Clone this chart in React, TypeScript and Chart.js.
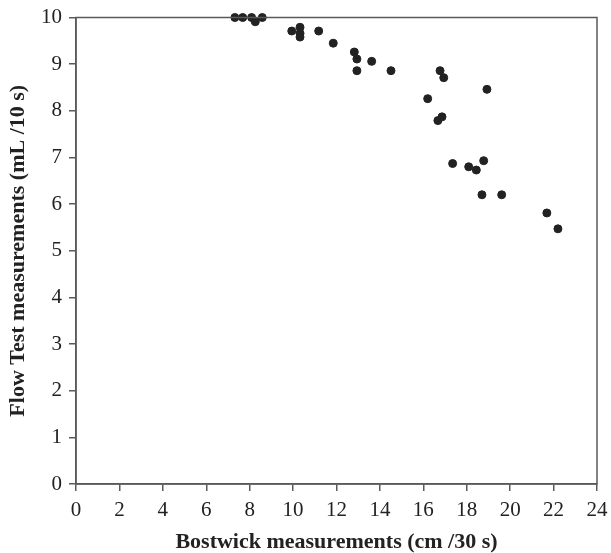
import React, { useEffect, useRef } from "react";
import { Chart, registerables } from "chart.js";

Chart.register(...registerables);

const bostwick: number[] = [7.32, 7.68, 8.09, 8.26, 8.58, 9.94, 10.32, 10.32, 10.32, 11.18, 11.85, 12.82, 12.94, 13.62, 12.94, 14.51, 16.77, 16.94, 18.93, 16.2, 16.86, 16.67, 17.35, 18.09, 18.44, 18.78, 18.7, 19.61, 21.69, 22.2];
const flowTest: number[] = [10.0, 10.0, 10.0, 9.91, 10.0, 9.71, 9.79, 9.66, 9.58, 9.71, 9.45, 9.26, 9.11, 9.06, 8.86, 8.86, 8.86, 8.71, 8.46, 8.26, 7.87, 7.79, 6.87, 6.8, 6.73, 6.93, 6.2, 6.2, 5.81, 5.47];

const xTitle = "Bostwick measurements (cm /30 s)";
const yTitle = "Flow Test measurements (mL /10 s)";

const axisColor = "#5a5a5a";
const textColor = "#222222";
const fontFamily = "'Liberation Serif', 'Times New Roman', serif";

const boxPlugin = {
  id: "boxPlugin",
  afterDraw(chart: any) {
    const { ctx, chartArea } = chart;
    ctx.save();
    ctx.strokeStyle = axisColor;
    ctx.lineWidth = 1.5;
    ctx.strokeRect(chartArea.left, chartArea.top, chartArea.right - chartArea.left, chartArea.bottom - chartArea.top);
    ctx.restore();
  },
};

export default function App() {
  const ref = useRef<HTMLCanvasElement | null>(null);
  useEffect(() => {
    document.body.style.margin = "0";
    if (!ref.current) return;
    const data = bostwick.map((x, i) => ({ x, y: flowTest[i] }));
    const chart = new Chart(ref.current, {
      type: "scatter",
      data: {
        datasets: [
          {
            data,
            backgroundColor: "#222222",
            borderColor: "#222222",
            pointRadius: 4,
            pointHoverRadius: 4,
            clip: false as any,
          },
        ],
      },
      options: {
        animation: false,
        responsive: false,
        layout: { padding: { left: 0, right: 14, top: 17.5, bottom: 0 } },
        plugins: { legend: { display: false }, tooltip: { enabled: false } },
        scales: {
          x: {
            type: "linear",
            min: 0,
            max: 24,
            afterFit: (scale: any) => { scale.height = 69; scale.paddingRight = 0; scale.paddingLeft = 0; },
            ticks: { stepSize: 2, color: textColor, font: { family: fontFamily, size: 21 }, padding: 7, maxRotation: 0 },
            grid: { display: true, drawOnChartArea: false, drawTicks: true, tickLength: 7, color: axisColor, lineWidth: 1.5 },
            border: { display: true, color: axisColor, width: 1.5 },
            title: { display: true, text: xTitle, color: textColor, font: { family: fontFamily, size: 22, weight: "bold", lineHeight: 1 }, padding: { top: 0, bottom: 0 } },
          },
          y: {
            type: "linear",
            min: 0,
            max: 10,
            afterFit: (scale: any) => { scale.width = 76; scale.paddingTop = 0; scale.paddingBottom = 0; },
            ticks: { stepSize: 1, color: textColor, font: { family: fontFamily, size: 21 }, padding: 7 },
            grid: { display: true, drawOnChartArea: false, drawTicks: true, tickLength: 7, color: axisColor, lineWidth: 1.5 },
            border: { display: true, color: axisColor, width: 1.5 },
            title: { display: true, text: yTitle, color: textColor, font: { family: fontFamily, size: 22, weight: "bold" }, padding: { top: 5, bottom: 0 } },
          },
        },
      },
      plugins: [boxPlugin],
    });
    return () => chart.destroy();
  }, []);
  return (
    <div style={{ width: 611, height: 553, background: "#fff" }}>
      <canvas ref={ref} width={611} height={553} style={{ display: "block" }} />
    </div>
  );
}
